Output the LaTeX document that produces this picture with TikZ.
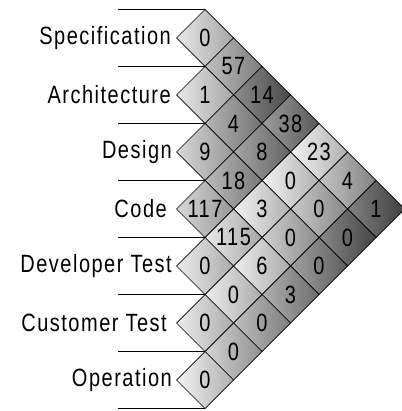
\documentclass[tikz,border=0pt]{standalone}
\usepackage{fontspec}
\setmainfont{Liberation Sans}[FakeStretch=0.8, LetterSpace=6]
\usetikzlibrary{shapes.geometric}
\begin{document}
\begin{tikzpicture}[x=1pt,y=-1pt,
  cell/.style={diamond, aspect=1, minimum width=57pt, minimum height=57pt,
    inner sep=0pt, outer sep=0pt, draw=black, line width=0.7pt,
    font=\fontsize{25}{28}\selectfont},
  lab/.style={anchor=east, inner sep=0pt, font=\fontsize{25}{28}\selectfont},
  rule/.style={draw=black, line width=0.9pt}]
\useasboundingbox (0,0) rectangle (401,411);
% labels
\node[lab] (l0) at (171,38) {Specification};
\node[lab] (l1) at (171,95) {Architecture};
\node[lab] (l2) at (172,152) {Design};
\node[lab] (l3) at (167,209) {Code};
\node[lab] (l4) at (172,266) {Developer Test};
\node[lab] (l5) at (167,323) {Customer Test};
\node[lab] (l6) at (172,380) {Operation};
% cells: row/offset/number/lightness
\foreach \r/\k/\n/\L in {
  0/0/0/78, 0/1/57/62, 0/2/14/42, 0/3/38/48, 0/4/23/82, 0/5/4/64, 0/6/1/38,
  1/0/1/78, 1/1/4/58, 1/2/8/52, 1/3/0/82, 1/4/0/66, 1/5/0/40,
  2/0/9/72, 2/1/18/60, 2/2/3/82, 2/3/0/68, 2/4/0/50,
  3/0/117/72, 3/1/115/78, 3/2/6/80, 3/3/3/56,
  4/0/0/80, 4/1/0/80, 4/2/0/62,
  5/0/0/80, 5/1/0/70,
  6/0/0/82}{
  \pgfmathtruncatemacro\lo{100-\L-13}
  \pgfmathtruncatemacro\hi{100-\L+13}
  \node[cell, left color=black!\lo, right color=black!\hi] (c\r-\k)
    at ({205+28.5*\k},{38+57*\r+28.5*\k}) {\n};
}
% horizontal rules
\foreach \i in {0,...,7}{
  \coordinate (h\i) at (118,{9.5+57*\i});
}
\foreach \i in {0,...,6}{
  \draw[rule] (h\i) -- (c\i-0.north);
}
\draw[rule] (h7) -- (c6-0.south);
\end{tikzpicture}
\end{document}
